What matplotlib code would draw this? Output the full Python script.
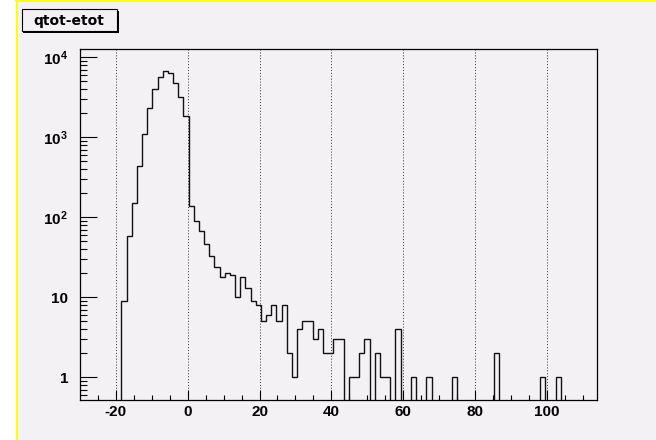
import numpy as np
import matplotlib.pyplot as plt
from matplotlib.patches import Rectangle
from matplotlib.lines import Line2D
from matplotlib.ticker import NullFormatter

plt.rcParams['font.family'] = ['Liberation Sans', 'DejaVu Sans']
plt.rcParams['font.weight'] = 'bold'
plt.rcParams['axes.unicode_minus'] = False
plt.rcParams['mathtext.fontset'] = 'custom'
plt.rcParams['mathtext.rm'] = 'Liberation Sans'
plt.rcParams['mathtext.bf'] = 'Liberation Sans:bold'

# histogram data
title = 'qtot-etot'
x_min, x_max, n_bins = -30, 114, 100
counts = [0, 0, 0, 0, 0, 0, 0, 0, 9, 59,
          152, 440, 1100, 2300, 4000, 5750, 6800, 6450, 4750, 3200,
          1820, 139, 91, 67, 46, 33, 24, 18, 20, 19,
          10, 18, 13, 9, 8, 5, 6, 8, 5, 8,
          2, 1, 4, 5, 5, 3, 4, 2, 2, 3,
          3, 0, 1, 1, 2, 3, 0, 2, 1, 1,
          0, 4, 0, 0, 1, 0, 0, 1, 0, 0,
          0, 0, 1, 0, 0, 0, 0, 0, 0, 0,
          2, 0, 0, 0, 0, 0, 0, 0, 0, 1,
          0, 0, 1, 0, 0, 0, 0, 0, 0, 0]
x_ticks = [-20, 0, 20, 40, 60, 80, 100]
y_ticks = [1, 10, 100, 1000, 10000]
y_labels = ['1', '10', r'$\mathbf{10^{2}}$', r'$\mathbf{10^{3}}$', r'$\mathbf{10^{4}}$']

W, H = 656, 440
bg = '#f4f1f4'

fig = plt.figure(figsize=(W / 100, H / 100), dpi=100, facecolor='white')

# pad background with yellow highlight on top / left
fig.add_artist(Rectangle((16 / W, 0), 1 - 16 / W, 1, transform=fig.transFigure,
                         facecolor=bg, edgecolor='none', zorder=0))
fig.add_artist(Line2D([16.8 / W, 16.8 / W], [0, 1 - 1 / H], transform=fig.transFigure,
                      color='#ffff00', linewidth=1.4, zorder=1))
fig.add_artist(Line2D([16 / W, 1], [1 - 1.2 / H, 1 - 1.2 / H], transform=fig.transFigure,
                      color='#ffff00', linewidth=1.4, zorder=1))

ax = fig.add_axes([80 / W, 40 / H, 517 / W, 351 / H])
ax.set_facecolor(bg)

edges = np.linspace(x_min, x_max, n_bins + 1)
c = np.array(counts, dtype=float)
ax.stairs(np.where(c > 0, c, 1e-3), edges, baseline=1e-3, color='#111111', linewidth=1.0)

ax.set_yscale('log')
ax.set_xlim(x_min, x_max)
ax.set_ylim(0.52, 12700)
ax.set_yticks(y_ticks, y_labels)
ax.yaxis.set_minor_formatter(NullFormatter())
ax.set_xticks(x_ticks)
ax.set_xticks(np.arange(-25, x_max, 5), minor=True)

ax.grid(axis='x', which='major', color='#333333', linestyle=(0, (1, 2)), linewidth=0.7)
ax.set_axisbelow(True)

for s in ax.spines.values():
    s.set_linewidth(0.9)
    s.set_color('black')

ax.tick_params(axis='y', which='major', direction='in', length=12, width=0.8, pad=8.6, labelsize=11)
ax.tick_params(axis='y', which='minor', direction='in', length=5.3, width=0.8)
ax.tick_params(axis='x', which='major', direction='in', length=7.2, width=0.8, pad=3.5, labelsize=11)
ax.tick_params(axis='x', which='minor', direction='in', length=3.6, width=0.8)
ax.tick_params(top=False, right=False)

# title box with shadow
bx0, by0, bx1, by1 = 21.5, 9.5, 116.5, 31.5
fig.add_artist(Rectangle(((bx0 + 2) / W, (H - by1 - 2) / H), (bx1 - bx0) / W, (by1 - by0) / H,
                         transform=fig.transFigure, facecolor='black', edgecolor='none', zorder=2))
fig.add_artist(Rectangle((bx0 / W, (H - by1) / H), (bx1 - bx0) / W, (by1 - by0) / H,
                         transform=fig.transFigure, facecolor=bg, edgecolor='black',
                         linewidth=0.8, zorder=3))
fig.text((bx0 + bx1) / 2 / W, (H - (by0 + by1) / 2) / H, title, ha='center', va='center',
         family='DejaVu Sans', weight='bold', fontsize=10, zorder=4)

fig.savefig('out.png', dpi=100, facecolor=fig.get_facecolor())
